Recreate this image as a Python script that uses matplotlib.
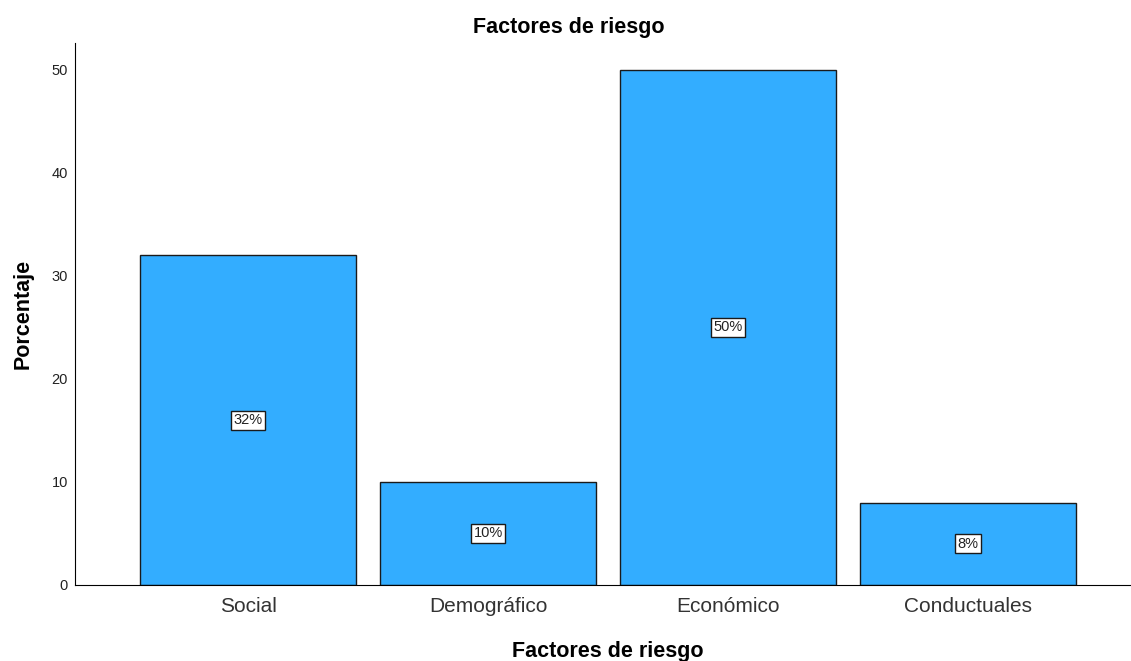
import matplotlib.pyplot as plt

categorias = ['Social', 'Demográfico', 'Económico', 'Conductuales']
porcentajes = [32, 10, 50, 8]
etiquetas = ['32%', '10%', '50%', '8%']

plt.rcParams['font.family'] = ['Liberation Sans', 'DejaVu Sans']

fig = plt.figure(figsize=(11.31, 6.61), dpi=100)
ax = fig.add_axes([75 / 1131, 76 / 661, 1055 / 1131, 542 / 661])

x = list(range(len(categorias)))
ax.bar(x, porcentajes, width=0.9, color='#33adff', edgecolor='#1a1a1a', linewidth=1)

# etiquetas en el centro de cada barra
for i, (v, t) in enumerate(zip(porcentajes, etiquetas)):
    ax.text(i, v / 2, t, ha='center', va='center', fontsize=10.5, color='#222222',
            bbox=dict(boxstyle='square,pad=0.18', facecolor='white', edgecolor='#1a1a1a', linewidth=1))

ax.set_xlim(-0.721, 3.675)
ax.set_ylim(0, 52.6)
ax.set_xticks(x)
ax.set_xticklabels(categorias, fontsize=15, color='#333333')
ax.set_yticks([0, 10, 20, 30, 40, 50])
ax.tick_params(axis='y', labelsize=10.5, labelcolor='#222222', length=0, pad=5)
ax.tick_params(axis='x', length=0, pad=9)

ax.spines['top'].set_visible(False)
ax.spines['right'].set_visible(False)

# título centrado en la figura
fig.text(0.503, 1 - 27 / 661, 'Factores de riesgo', ha='center', va='center',
         fontsize=15.5, fontweight='bold')
ax.set_ylabel('Porcentaje', fontsize=15.5, fontweight='bold', labelpad=13)
ax.set_xlabel('Factores de riesgo', fontsize=15.5, fontweight='bold')
ax.xaxis.label.set_va('top')
ax.xaxis.set_label_coords(533 / 1055, -56 / 542)

plt.savefig('out.png', dpi=100)
